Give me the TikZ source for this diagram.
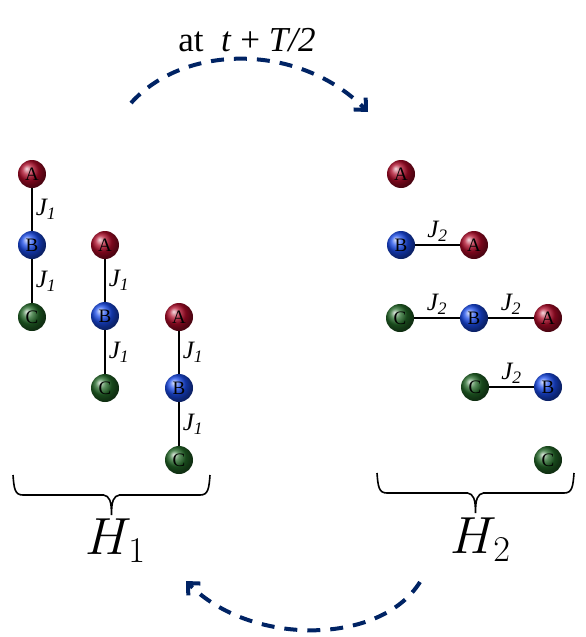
\documentclass[tikz,border=0pt]{standalone}
\usepackage{graphicx}
\usepackage{fontspec}
\setmainfont{Liberation Serif}
\usetikzlibrary{arrows.meta}
\definecolor{arr}{RGB}{0,35,100}
\definecolor{ra}{RGB}{175,10,40}
\definecolor{rb}{RGB}{25,75,235}
\definecolor{rc}{RGB}{35,105,40}
\tikzset{sa/.style={circle,minimum size=28pt,inner sep=0pt,ball color=ra,font=\fontsize{19}{19}\selectfont},
 sb/.style={sa,ball color=rb},
 sc/.style={sa,ball color=rc},
 bond/.style={line width=1.6pt},
 jl/.style={font=\fontsize{25}{25}\selectfont\itshape,inner sep=3pt},
 hop/.style={-{Straight Barb[length=9pt,width=17pt]},line width=4pt,draw=arr,dash pattern=on 13pt off 10pt},
 br/.style={line width=1.6pt},
 hl/.style={font=\fontsize{24}{28}\selectfont}}
% brace: left x, right x, top y
\newcommand{\brc}[3]{\draw[br](#1,#3) .. controls (#1+1,#3+14) and (#1+2,#3+20) .. (#1+10,#3+20)
 -- ({(#1+#2)/2-8},#3+20) .. controls ({(#1+#2)/2-2},#3+21) and ({(#1+#2)/2},#3+26) .. ({(#1+#2)/2},#3+40)
 .. controls ({(#1+#2)/2},#3+26) and ({(#1+#2)/2+2},#3+21) .. ({(#1+#2)/2+8},#3+20)
 -- (#2-10,#3+20) .. controls (#2-2,#3+20) and (#2-1,#3+14) .. (#2,#3);}

\begin{document}
\begin{tikzpicture}[x=1pt,y=-1pt]
\useasboundingbox (0,0) rectangle (586,637);
% H1: vertical chains
\foreach \i/\x/\y in {1/32/174,2/105/245,3/179/317}{
 \node[sa](a\i) at (\x,\y){A};
 \node[sb](b\i) at (\x,\y+71){B};
 \node[sc](c\i) at (\x,\y+143){C};
 \draw[bond](a\i)--node[jl,right]{J\textsubscript{1}}(b\i);
 \draw[bond](b\i)--node[jl,right]{J\textsubscript{1}}(c\i);}
% H2: horizontal chains
\node[sa](a4) at (401,174){A};
\node[sb](b4) at (401,245){B};\node[sa](a5) at (474,245){A};
\node[sc](c4) at (400,318){C};\node[sb](b5) at (474,318){B};\node[sa](a6) at (548,318){A};
\node[sc](c5) at (475,387){C};\node[sb](b6) at (548,387){B};
\node[sc](c6) at (548,460){C};
\foreach \u/\v in {b4/a5,c4/b5,b5/a6,c5/b6}
 \draw[bond](\u)--node[jl,above]{J\textsubscript{2}}(\v);
% braces
\brc{13}{210}{475}
\brc{377}{574}{473}
\node[hl](h1) at (116,541){\scalebox{2.1}{$H_1$}};
\node[hl](h2) at (481,540){\scalebox{2.1}{$H_2$}};
% switching arrows
\node[font=\fontsize{35}{35}\selectfont](lbl) at (247,40){at~~\textit{t} + \textit{T/2}};
\coordinate (s1) at (131,103);\coordinate (e1) at (368,112);
\draw[hop](s1) .. controls (185,43) and (300,43) .. (e1);
\coordinate (s2) at (420,582);\coordinate (e2) at (186,581);
\draw[hop](s2) .. controls (380,646) and (250,646) .. (e2);
\end{tikzpicture}
\end{document}
